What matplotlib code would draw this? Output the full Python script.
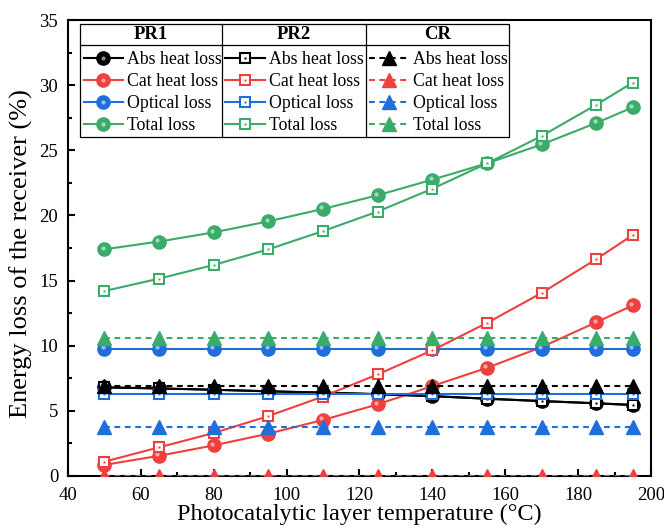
import matplotlib.pyplot as plt
from matplotlib.lines import Line2D
from matplotlib.legend_handler import HandlerTuple
from matplotlib.transforms import ScaledTranslation
from matplotlib.patches import Rectangle

plt.rcParams['font.family'] = ['Liberation Serif', 'DejaVu Serif']

# data
temp = [50, 65, 80, 95, 110, 125, 140, 155, 170, 185, 195]

pr1_abs = [6.8, 6.72, 6.62, 6.5, 6.4, 6.28, 6.13, 5.93, 5.75, 5.58, 5.45]
pr1_cat = [0.85, 1.55, 2.35, 3.25, 4.3, 5.5, 6.9, 8.3, 9.9, 11.8, 13.1]
pr1_opt = [9.75, 9.75, 9.75, 9.75, 9.75, 9.75, 9.75, 9.75, 9.75, 9.75, 9.75]
pr1_tot = [17.4, 18.0, 18.7, 19.55, 20.5, 21.55, 22.75, 24.0, 25.45, 27.1, 28.3]

pr2_abs = [6.8, 6.72, 6.62, 6.5, 6.4, 6.28, 6.13, 5.93, 5.75, 5.58, 5.45]
pr2_cat = [1.1, 2.2, 3.3, 4.6, 6.1, 7.8, 9.65, 11.75, 14.05, 16.65, 18.5]
pr2_opt = [6.27, 6.27, 6.27, 6.27, 6.27, 6.27, 6.27, 6.27, 6.27, 6.27, 6.27]
pr2_tot = [14.2, 15.15, 16.2, 17.4, 18.8, 20.3, 22.05, 24.0, 26.1, 28.5, 30.2]

cr_abs = [6.9, 6.9, 6.9, 6.9, 6.9, 6.9, 6.9, 6.9, 6.9, 6.9, 6.9]
cr_cat = [0.0, 0.0, 0.0, 0.0, 0.0, 0.0, 0.0, 0.0, 0.0, 0.0, 0.0]
cr_opt = [3.73, 3.73, 3.73, 3.73, 3.73, 3.73, 3.73, 3.73, 3.73, 3.73, 3.73]
cr_tot = [10.6, 10.6, 10.6, 10.6, 10.6, 10.6, 10.6, 10.6, 10.6, 10.6, 10.6]

labels = ['Abs heat loss', 'Cat heat loss', 'Optical loss', 'Total loss']
colors = ['#000000', '#ef4040', '#1f6fdb', '#3aab68']

fig = plt.figure(figsize=(6.64, 5.32), dpi=100)
ax = fig.add_axes([0.1024, 0.1053, 0.878, 0.857])

hl_shift = ax.transData + ScaledTranslation(-1.2 / 72, 1.2 / 72, fig.dpi_scale_trans)

# PR1 - filled spheres
pr1_handles = []
for y, c in zip([pr1_abs, pr1_cat, pr1_opt, pr1_tot], colors):
    ax.plot(temp, y, color=c, lw=1.5, marker='o', ms=9.5, mfc=c, mec=c, zorder=3)
    ax.plot(temp, y, ls='none', marker='o', ms=3, mfc='white', mec='none',
            alpha=0.55, transform=hl_shift, zorder=3)
    pr1_handles.append((Line2D([], [], color=c, lw=1.5, marker='o', ms=9.5, mfc=c, mec=c),
                        Line2D([], [], ls='none', marker='o', ms=3, mfc='white', mec='none', alpha=0.55)))

# PR2 - hollow squares with a dot
pr2_handles = []
for y, c in zip([pr2_abs, pr2_cat, pr2_opt, pr2_tot], colors):
    ax.plot(temp, y, color=c, lw=1.5, marker='s', ms=7.5, mfc='white', mec=c, mew=1.5, zorder=3)
    ax.plot(temp, y, ls='none', marker='s', ms=1.6, mfc=c, mec='none', zorder=3)
    pr2_handles.append((Line2D([], [], color=c, lw=1.5, marker='s', ms=7.5, mfc='white', mec=c, mew=1.5),
                        Line2D([], [], ls='none', marker='s', ms=1.6, mfc=c, mec='none')))

# CR - dashed with triangles
cr_handles = []
for y, c in zip([cr_abs, cr_cat, cr_opt, cr_tot], colors):
    ax.plot(temp, y, color=c, lw=1.5, ls=(0, (2.8, 2.2)), marker='^', ms=10,
            mfc=c, mec=c, zorder=3)
    cr_handles.append(Line2D([], [], color=c, lw=1.5, ls=(0, (2.8, 2.2)), marker='^', ms=10, mfc=c, mec=c))

ax.set_xlim(40, 200)
ax.set_ylim(0, 35)
ax.set_xticks(range(40, 201, 20))
ax.set_xticks(range(50, 200, 20), minor=True)
ax.set_yticks(range(0, 36, 5))
ax.set_yticks([2.5 + 5 * i for i in range(7)], minor=True)
ax.tick_params(which='both', direction='in', top=False, right=False, labelsize=13.5, width=1.5)
ax.tick_params(which='major', length=5)
ax.tick_params(axis='x', which='major', pad=8)
ax.tick_params(axis='y', which='major', pad=7)
ax.tick_params(which='minor', length=3)
for s in ax.spines.values():
    s.set_linewidth(1.5)

ax.set_xlabel('Photocatalytic layer temperature (°C)', fontsize=17.5, labelpad=0)
ax.set_ylabel('Energy loss of the receiver (%)', fontsize=19)
ax.yaxis.set_label_coords(-0.06, 0.487)

# legend table
tab_l, tab_r, tab_t, tab_b, head_b = 0.0206, 0.756, 0.991, 0.743, 0.945
col_x = [0.0206, 0.264, 0.511, 0.756]
ax.add_patch(Rectangle((tab_l, tab_b), tab_r - tab_l, tab_t - tab_b, transform=ax.transAxes,
                       fill=False, ec='black', lw=0.9, zorder=5))
ax.plot([tab_l, tab_r], [head_b, head_b], transform=ax.transAxes, color='black', lw=0.9, zorder=5)
for xv in col_x[1:3]:
    ax.plot([xv, xv], [tab_b, tab_t], transform=ax.transAxes, color='black', lw=0.9, zorder=5)
for i, name in enumerate(['PR1', 'PR2', 'CR']):
    ax.text((col_x[i] + col_x[i + 1]) / 2, (tab_t + head_b) / 2, name, transform=ax.transAxes,
            ha='center', va='center', fontsize=13.5, fontweight='bold', zorder=6)

for i, hs in enumerate([pr1_handles, pr2_handles, cr_handles]):
    leg = ax.legend(hs, labels, loc='upper left', bbox_to_anchor=(col_x[i], head_b - 0.006),
                    frameon=False, fontsize=12.8, handlelength=2.2, handletextpad=0.25,
                    labelspacing=0.28, borderpad=0.2, borderaxespad=0,
                    handler_map={tuple: HandlerTuple(ndivide=1)})
    leg.set_zorder(6)
    if i < 2:
        ax.add_artist(leg)

fig.savefig('out.png', dpi=100)
